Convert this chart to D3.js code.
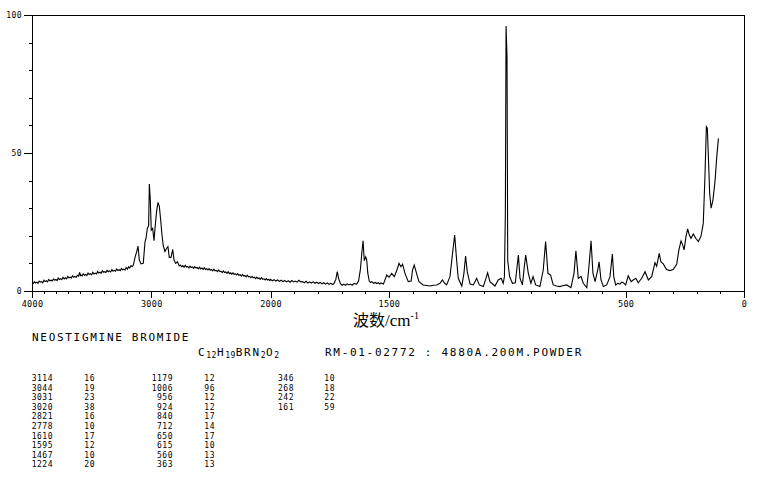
<!DOCTYPE html>
<html><head><meta charset="utf-8">
<script src="https://cdn.jsdelivr.net/npm/d3@7"></script>
<style>
html,body{margin:0;padding:0;background:#fff;}
svg{display:block;}
text{fill:#000;}
</style></head>
<body><svg id="chart" width="765" height="479"></svg>
<script>
// ---- data ----
const spectrum = [
[4000,3.0],[3990,2.7],[3980,3.4],[3970,2.9],[3960,3.2],[3950,2.8],[3940,3.6],[3930,3.2],[3920,3.4],[3910,3.0],
[3900,3.9],[3890,3.4],[3880,3.7],[3870,3.3],[3860,4.2],[3850,3.7],[3840,3.9],[3830,3.6],[3820,4.4],[3810,3.9],
[3800,4.2],[3790,3.8],[3780,4.7],[3770,4.2],[3760,4.5],[3750,4.1],[3740,5.0],[3730,4.4],[3720,4.8],[3710,4.4],
[3700,5.3],[3690,4.8],[3680,5.0],[3670,4.7],[3660,5.5],[3650,5.0],[3640,5.3],[3630,4.9],[3620,5.7],[3610,5.4],
[3600,6.8],[3595,5.6],[3590,5.9],[3580,5.5],[3570,6.2],[3560,5.7],[3550,6.0],[3540,5.6],[3530,6.5],[3520,6.0],
[3510,6.3],[3500,5.9],[3490,6.8],[3480,6.2],[3470,6.5],[3460,6.2],[3450,7.1],[3440,6.5],[3430,6.8],[3420,6.4],
[3410,7.3],[3400,6.8],[3390,7.0],[3380,6.7],[3370,7.5],[3360,7.0],[3350,7.3],[3340,6.9],[3330,7.8],[3320,7.2],
[3310,7.5],[3300,7.2],[3290,8.0],[3280,7.4],[3270,7.7],[3260,7.4],[3250,8.2],[3240,7.7],[3230,7.9],[3220,7.6],
[3210,8.5],[3200,7.9],[3190,8.8],[3180,8.3],[3170,9.2],[3160,8.8],[3150,9.4],[3136,12.2],
[3122,14.3],[3111,16.3],[3100,11.2],[3086,9.8],[3067,10.0],[3052,17.9],[3044,19.1],[3033,22.7],[3022,23.6],[3016,38.8],
[3008,33.0],[3000,22.1],[2988,22.7],[2977,18.2],[2966,23.9],[2954,29.3],[2943,32.1],[2932,30.6],[2921,25.7],[2910,20.3],
[2899,16.3],[2885,14.3],[2871,15.5],[2860,16.1],[2849,12.2],[2834,12.2],[2820,15.1],[2809,11.2],[2795,10.0],[2781,10.6],
[2765,9.1],[2755,9.4],[2745,8.8],[2735,9.2],[2725,8.6],[2715,9.3],[2705,8.7],[2695,8.9],[2685,8.4],[2675,9.0],
[2665,8.5],[2655,8.7],[2645,8.2],[2635,8.8],[2625,8.3],[2615,8.5],[2605,8.0],[2595,8.6],[2585,8.0],[2575,8.3],
[2565,7.8],[2555,8.4],[2545,7.8],[2535,8.1],[2525,7.6],[2515,8.1],[2505,7.5],[2495,7.8],[2485,7.3],[2475,7.9],
[2465,7.3],[2455,7.5],[2445,7.0],[2435,7.6],[2425,7.0],[2415,7.2],[2405,6.7],[2395,7.3],[2385,6.7],[2375,6.9],
[2365,6.4],[2355,7.0],[2345,6.3],[2335,6.6],[2325,6.1],[2315,6.6],[2305,6.0],[2295,6.3],[2285,5.8],[2275,6.3],
[2265,5.7],[2255,5.9],[2245,5.4],[2235,6.0],[2225,5.4],[2215,5.6],[2205,5.1],[2195,5.7],[2185,5.1],[2175,5.3],
[2165,4.8],[2155,5.3],[2145,4.8],[2135,5.0],[2125,4.5],[2115,5.0],[2105,4.5],[2095,4.7],[2085,4.2],[2075,4.8],
[2065,4.2],[2055,4.4],[2045,4.0],[2035,4.5],[2025,4.0],[2015,4.2],[2005,3.8],[2000,4.2],
[1992,3.7],[1985,4.1],[1978,3.6],[1970,4.0],[1962,3.5],[1955,3.9],[1947,3.4],[1940,3.8],[1932,3.3],[1925,3.7],
[1917,3.2],[1910,3.8],[1902,3.3],[1895,3.6],[1887,3.2],[1880,3.9],[1872,3.3],[1865,3.4],[1857,3.0],[1850,3.5],
[1842,2.9],[1835,3.3],[1827,2.9],[1820,3.3],[1812,2.8],[1805,3.2],[1797,2.7],[1790,3.1],[1782,2.6],[1775,3.0],
[1767,2.5],[1760,2.9],[1752,2.4],[1745,2.8],[1738,2.3],[1732,2.7],[1724,4.2],[1718,7.0],
[1712,4.5],[1704,2.6],[1697,2.1],[1690,2.5],[1683,2.1],[1676,2.6],[1669,2.2],[1662,2.5],[1655,2.1],[1648,2.7],[1636,2.5],[1628,3.6],[1620,8.0],[1614,14.0],
[1609,18.2],[1604,11.0],[1598,12.4],[1594,11.5],[1589,6.5],[1583,3.6],[1577,3.1],[1572,3.4],[1565,2.8],[1558,3.1],[1551,2.7],[1545,3.0],[1538,2.5],[1534,2.9],
[1523,2.5],[1509,5.8],[1499,5.0],[1488,6.4],[1477,5.2],[1466,7.6],[1457,10.0],[1449,8.8],[1442,9.7],[1432,6.4],
[1418,3.4],[1406,3.6],[1400,7.6],[1393,9.4],[1383,6.4],[1373,3.4],[1355,2.2],[1340,2.0],[1326,1.8],[1312,2.1],
[1298,2.2],[1284,2.8],[1274,4.0],[1264,2.8],[1256,2.2],[1242,5.2],[1231,13.7],[1222,20.3],[1215,12.4],[1207,4.6],
[1192,1.8],[1183,6.4],[1176,12.7],[1169,7.0],[1157,2.5],[1143,2.2],[1129,4.6],[1118,2.2],[1101,1.6],[1090,4.6],
[1083,6.6],[1073,3.4],[1052,1.8],[1038,4.0],[1026,4.6],[1017,2.8],[1012,5.2],[1008,28],[1005,96],[1001,85],
[998,11],[990,5.2],[978,2.8],
[966,3.0],[960,7.6],[953,13],[946,4.6],[936,2.2],[928,8.8],[922,13],[911,6.4],[900,2.8],[891,5.2],
[880,2.2],[862,1.6],[848,7.6],[838,17.9],[828,6.4],[817,5.8],[806,2.2],[792,1.8],[777,1.6],[763,2.0],
[749,2.2],[740,1.7],[731,1.2],[718,6.4],[710,14.6],[700,4.6],[688,5.2],[679,2.8],[664,1.2],[655,8.8],
[646,18.2],[638,6.4],[629,3.4],[618,7.6],[612,10.6],[604,4.0],[594,1.6],[580,2.2],[566,5.2],[556,13.4],
[550,5.2],[542,2.2],[533,2.8],[524,2.5],[517,3.2],[510,3.0],[500,2.2],[489,5.5],[477,3.4],[468,4.0],
[457,4.6],[447,3.0],[432,4.6],[418,7.0],[404,4.0],[390,5.2],[376,10.3],[369,9.0],[358,13.6],[351,10.6],
[341,9.8],[327,7.8],[313,7.4],[299,7.8],[284,9.8],[275,14.9],[266,18.1],[259,16.7],[253,14.9],[245,19.7],
[238,22.5],[231,20.3],[224,19.1],[214,20.7],[204,19.1],[193,17.9],[182,19.7],[172,24.5],[165,41.4],[159,59.5],
[155,59.0],[151,50.0],[145,35.4],[139,30.0],[131,33.0],[122,40.2],[115,48.7],[108,55.3]
];
const xMajorTicks = [4000, 3000, 2000, 1500, 500, 0];
const xMinorTicks = d3.range(0, 4001, 100);
const yMajorTicks = [0, 50, 100];
const yMinorTicks = d3.range(0, 101, 10);
const compoundName = "NEOSTIGMINE BROMIDE";
const sampleInfo = "RM-01-02772 : 4880A.200M.POWDER";
const formulaParts = [["C",false],["12",true],["H",false],["19",true],["BRN",false],["2",true],["O",false],["2",true]];
const peakShift = [3114,3044,3031,3020,2821,2778,1610,1595,1467,1224,
                   1179,1006,956,924,840,712,650,615,560,363,
                   346,268,242,161];
const peakIntensity = [16,19,23,38,16,10,17,12,10,20,
                       12,96,12,12,17,14,17,10,13,13,
                       10,18,22,59];

// ---- scales ----
const svg = d3.select("#chart");
const x = d3.scaleLinear().domain([4000, 2000, 0]).range([32, 270.5, 744]);
const y = d3.scaleLinear().domain([0, 100]).range([291, 15]);
const mono = "'DejaVu Sans Mono', monospace";

// frame
svg.append("rect").attr("x", 32.5).attr("y", 15.5).attr("width", 744 - 32).attr("height", 291 - 15)
  .attr("fill", "none").attr("stroke", "#000").attr("stroke-width", 1).attr("shape-rendering", "crispEdges");

// axes
svg.append("g").attr("transform", "translate(0,291)")
  .call(d3.axisBottom(x).tickValues(xMinorTicks).tickSize(3).tickFormat(""));
const gx = svg.append("g").attr("transform", "translate(0,291)")
  .call(d3.axisBottom(x).tickValues(xMajorTicks).tickSize(7).tickPadding(3).tickFormat(d3.format("d")));
svg.append("g").attr("transform", "translate(32,0)")
  .call(d3.axisLeft(y).tickValues(yMinorTicks).tickSize(3).tickFormat(""));
const gy = svg.append("g").attr("transform", "translate(32,0)")
  .call(d3.axisLeft(y).tickValues(yMajorTicks).tickSize(8).tickPadding(2).tickFormat(d3.format("d")));

svg.selectAll("g .domain, g .tick line").attr("stroke", "#000").attr("shape-rendering", "crispEdges");
gx.selectAll("text").attr("font-family", mono).attr("font-size", 8.5).attr("letter-spacing", 0.3).attr("fill", "#000");
gy.selectAll("text").attr("font-family", mono).attr("font-size", 8).attr("letter-spacing", 0.4).attr("fill", "#000");

// spectrum line
const line = d3.line().x(d => x(d[0])).y(d => y(d[1]));
svg.append("path").datum(spectrum).attr("d", line)
  .attr("fill", "none").attr("stroke", "#000").attr("stroke-width", 1.1);

// axis title
const t = svg.append("text").attr("x", 386).attr("y", 326).attr("text-anchor", "middle").attr("font-size", 16);
t.append("tspan").attr("font-family", "'Noto Sans CJK SC', sans-serif").text("波数");
t.append("tspan").attr("font-family", "'Liberation Serif', serif").attr("font-size", 17).text("/cm");
t.append("tspan").attr("font-family", "'Liberation Serif', serif").attr("font-size", 10).attr("dy", -7).text("-1");

// compound info
svg.append("text").attr("x", 32).attr("y", 341).attr("font-family", mono).attr("font-size", 11)
  .attr("letter-spacing", 1.7).text(compoundName);
let fx = 198;
formulaParts.forEach(p => {
  const sub = p[1];
  svg.append("text").attr("x", fx).attr("y", sub ? 358 : 356).attr("font-family", mono)
    .attr("font-size", sub ? 8 : 11).attr("letter-spacing", sub ? 0.5 : 1.7).text(p[0]);
  fx += p[0].length * (sub ? 5.3 : 8.3);
});
svg.append("text").attr("x", 325).attr("y", 356).attr("font-family", mono).attr("font-size", 11)
  .attr("letter-spacing", 1.7).text(sampleInfo);

// peak table
const colWaveRight = [53, 173, 294];
const colIntRight = [95, 215, 335];
peakShift.forEach((v, i) => {
  const col = Math.floor(i / 10), row = i % 10;
  const yy = 381 + row * 9.6;
  svg.append("text").attr("x", colWaveRight[col]).attr("y", yy).attr("text-anchor", "end")
    .attr("font-family", mono).attr("font-size", 8).attr("letter-spacing", 0.5).text(v);
  svg.append("text").attr("x", colIntRight[col]).attr("y", yy).attr("text-anchor", "end")
    .attr("font-family", mono).attr("font-size", 8).attr("letter-spacing", 0.5).text(peakIntensity[i]);
});
</script></body></html>
